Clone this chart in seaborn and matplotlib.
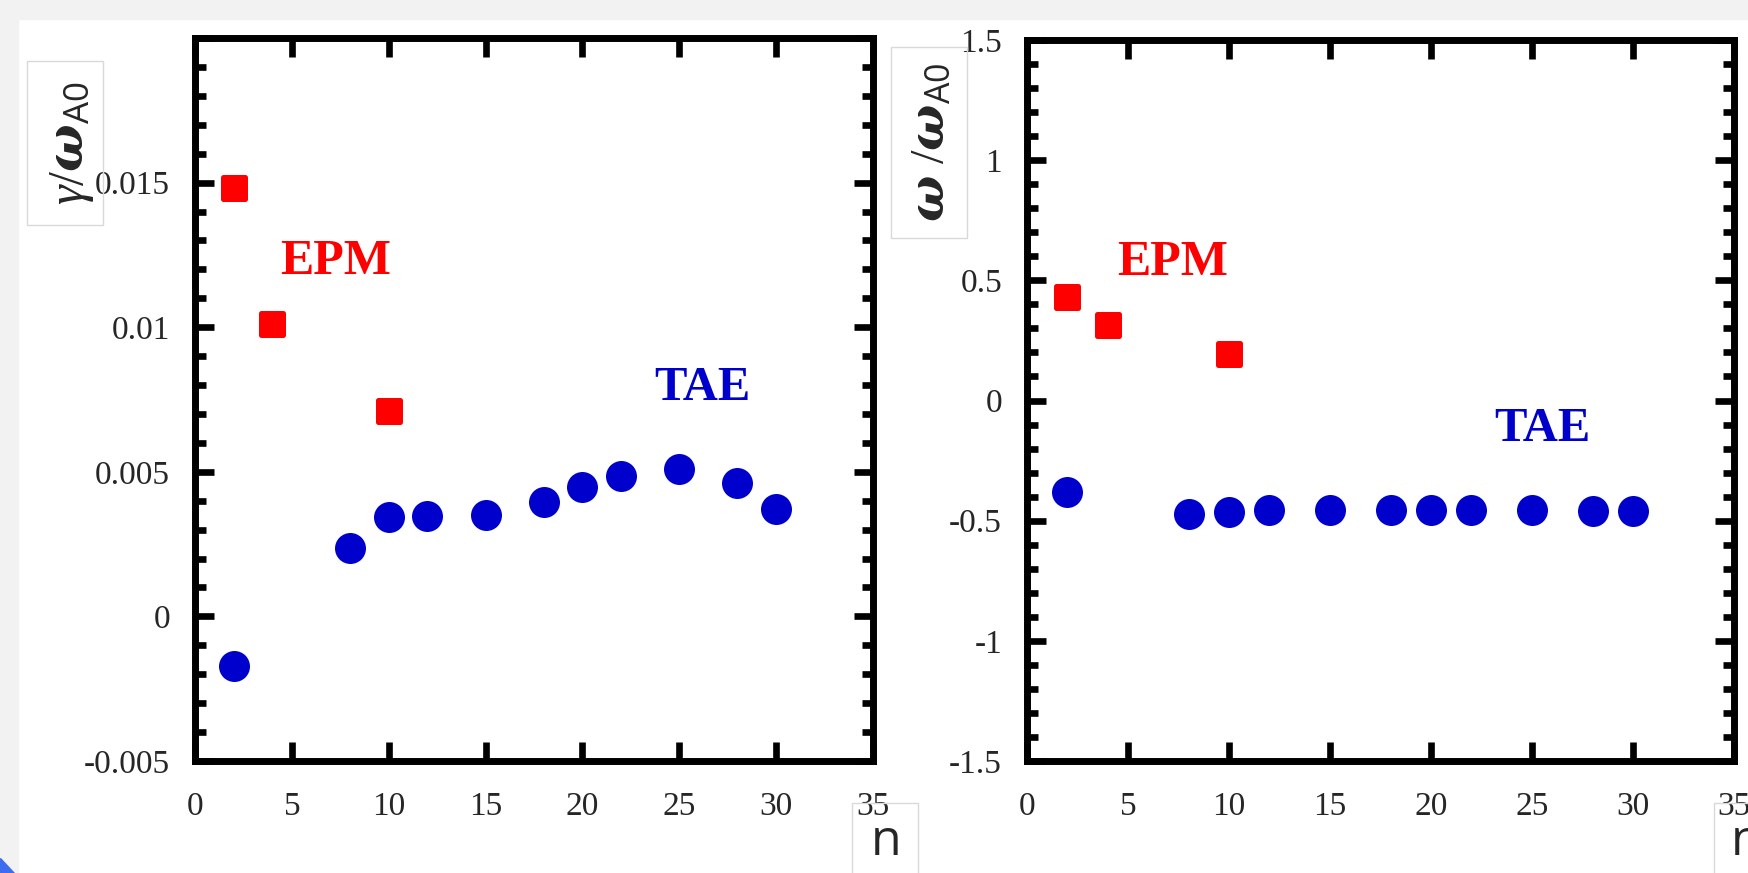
import numpy as np
import pandas as pd
import matplotlib
matplotlib.use("Agg")
import matplotlib.pyplot as plt
from matplotlib.patches import Rectangle, Polygon
from matplotlib.ticker import MultipleLocator
import seaborn as sns

# growth rate gamma/omega_A0
epm_n = [2, 4, 10]
epm_gamma = [0.0148, 0.0101, 0.0071]
tae_n = [2, 8, 10, 12, 15, 18, 20, 22, 25, 28, 30]
tae_gamma = [-0.0017, 0.00235, 0.00344, 0.00347, 0.00351, 0.00397,
             0.00447, 0.00485, 0.0051, 0.00461, 0.00371]

# real frequency omega/omega_A0
epm_omega = [0.429, 0.314, 0.193]
tae_omega = [-0.380, -0.473, -0.463, -0.454, -0.454, -0.454,
             -0.454, -0.454, -0.454, -0.458, -0.458]

x_ticks = [0, 5, 10, 15, 20, 25, 30, 35]
RED = "#ff0000"
BLUE = "#0000cc"

sns.set_theme(style="ticks")
plt.rcParams["font.family"] = ["Liberation Serif", "DejaVu Serif"]
plt.rcParams["mathtext.fontset"] = "custom"
plt.rcParams["mathtext.rm"] = "Liberation Serif"
plt.rcParams["mathtext.it"] = "Liberation Serif:italic"
plt.rcParams["mathtext.bf"] = "DejaVu Serif:italic:bold"
plt.rcParams["mathtext.sf"] = "Open Sans"

W, H = 1748, 873
fig = plt.figure(figsize=(W / 100, H / 100), dpi=100, facecolor="white")

# slide frame bits
fig.patches.append(Rectangle((0, 1 - 19 / H), 1, 19 / H, transform=fig.transFigure,
                             color="#f2f2f2", zorder=0))
fig.patches.append(Rectangle((0, 0), 18 / W, 1, transform=fig.transFigure,
                             color="#f2f2f2", zorder=0))
fig.patches.append(Polygon([(0, 15 / H), (0, 0), (14 / W, 0)], closed=True,
                           transform=fig.transFigure, color="#3d6cf0", zorder=1))

ax1 = fig.add_axes([195 / W, (H - 761) / H, 678 / W, 723 / H])
ax2 = fig.add_axes([1027 / W, (H - 761) / H, 707 / W, 721 / H])

df_epm = pd.DataFrame({"n": epm_n, "gamma": epm_gamma, "omega": epm_omega})
df_tae = pd.DataFrame({"n": tae_n, "gamma": tae_gamma, "omega": tae_omega})


def draw(ax, col):
    sns.scatterplot(data=df_tae, x="n", y=col, ax=ax, color=BLUE, marker="o",
                    s=498, linewidth=0, zorder=3)
    sns.scatterplot(data=df_epm, x="n", y=col, ax=ax, color=RED, marker="s",
                    s=251, edgecolor=RED, linewidth=3.6, zorder=3)
    ax.collections[-1].set_joinstyle("round")
    ax.set_xlim(0, 35)
    ax.set_xticks(x_ticks)
    ax.set_xlabel("")
    ax.set_ylabel("")
    for sp in ax.spines.values():
        sp.set_visible(True)
        sp.set_linewidth(5)
        sp.set_color("black")
    ax.tick_params(axis="both", which="both", direction="in", top=True, right=True,
                   color="black", labelsize=24)
    ax.tick_params(axis="y", which="major", length=13.5, width=4.8, pad=18)
    ax.tick_params(axis="y", which="minor", length=8, width=4.8)
    ax.tick_params(axis="x", which="major", length=13.5, width=4.8, pad=22)
    ax.tick_params(axis="x", which="minor", length=0)
    ax.grid(False)


draw(ax1, "gamma")
ax1.set_ylim(-0.005, 0.02)
ax1.set_yticks([-0.005, 0, 0.005, 0.01, 0.015, 0.02])
ax1.set_yticklabels(["-0.005", "0", "0.005", "0.01", "0.015", ""])
ax1.yaxis.set_minor_locator(MultipleLocator(0.001))
ax1.text(7.28, 0.01225, "EPM", color=RED, fontsize=36, fontweight="bold",
         ha="center", va="center")
ax1.text(26.2, 0.0079, "TAE", color=BLUE, fontsize=35, fontweight="bold",
         ha="center", va="center")

draw(ax2, "omega")
ax2.set_ylim(-1.5, 1.5)
ax2.set_yticks([-1.5, -1, -0.5, 0, 0.5, 1, 1.5])
ax2.set_yticklabels(["-1.5", "-1", "-0.5", "0", "0.5", "1", "1.5"])
ax2.yaxis.set_minor_locator(MultipleLocator(0.1))
ax2.text(7.2, 0.572, "EPM", color=RED, fontsize=36, fontweight="bold",
         ha="center", va="center")
ax2.text(25.5, -0.119, "TAE", color=BLUE, fontsize=35, fontweight="bold",
         ha="center", va="center")

# y label boxes (text boxes placed on the slide)
def box(x0, y0, x1, y1):
    fig.patches.append(Rectangle((x0 / W, 1 - y1 / H), (x1 - x0) / W, (y1 - y0) / H,
                                 transform=fig.transFigure, facecolor="none",
                                 edgecolor="#d9d9d9", linewidth=1, zorder=2))


box(27, 61, 103, 225)
fig.text(72 / W, 1 - 143 / H, r"$\gamma/\mathbf{\omega}_{\mathsf{A0}}$", fontsize=36,
         rotation=90, ha="center", va="center")
box(891, 47, 967, 238)
fig.text(932 / W, 1 - 142 / H, r"$\mathbf{\omega}\ /\mathbf{\omega}_{\mathsf{A0}}$",
         fontsize=35, rotation=90, ha="center", va="center")

box(852, 803, 918, 880)
fig.text(886 / W, 1 - 842 / H, "n", fontsize=36, family="Open Sans",
         ha="center", va="center")
box(1714, 803, 1760, 880)
fig.text(1746 / W, 1 - 842 / H, "n", fontsize=36, family="Open Sans",
         ha="center", va="center")

fig.savefig("out.png", dpi=100, facecolor="white")
